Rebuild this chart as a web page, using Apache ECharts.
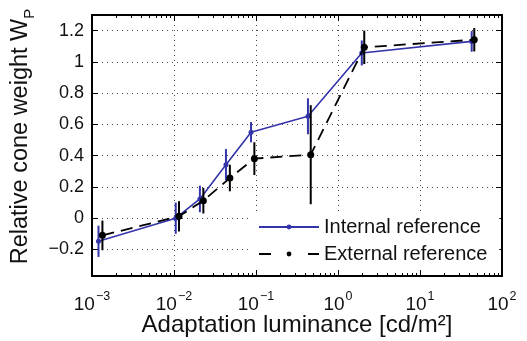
<!DOCTYPE html>
<html>
<head>
<meta charset="utf-8">
<script src="https://cdn.jsdelivr.net/npm/echarts@6/dist/echarts.min.js"></script>
<style>
  html, body { margin: 0; padding: 0; background: #fff; }
  #chart { width: 527px; height: 341px; }
</style>
</head>
<body>
<div id="chart"></div>
<script>
// Adaptation luminance (cd/m^2), mean relative cone weight and error half-widths
const luminanceInternal = [0.0012, 0.0105, 0.0207, 0.043, 0.087, 0.43, 1.95, 42.7];
const weightInternal    = [-0.148, 0.0, 0.123, 0.342, 0.55, 0.652, 1.057, 1.131];
const errorInternal     = [0.10, 0.10, 0.085, 0.10, 0.065, 0.115, 0.08, 0.066];

const luminanceExternal = [0.00134, 0.0115, 0.0228, 0.048, 0.0955, 0.465, 2.09, 45.9];
const weightExternal    = [-0.11, 0.012, 0.112, 0.257, 0.381, 0.406, 1.093, 1.142];
const errorExternal     = [0.095, 0.097, 0.082, 0.085, 0.105, 0.317, 0.107, 0.075];

const seriesNames = ['Internal reference', 'External reference'];
const yTickValues = [-0.2, 0, 0.2, 0.4, 0.6, 0.8, 1, 1.2];
const yTickLabels = ['\u22120.2', '0', '0.2', '0.4', '0.6', '0.8', '1', '1.2'];
const xDecadeExponents = [-3, -2, -1, 0, 1];
const xMinorSteps = [2, 3, 4, 5, 6, 7, 8, 9];

// minor tick positions (2..9 within each decade), expressed as exponents
const xMinorExponents = [];
xDecadeExponents.forEach(e => xMinorSteps.forEach(m => xMinorExponents.push(e + Math.log10(m))));

const blue = '#3434aa';
const black = '#000000';
const fontFamily = '"Liberation Sans", Arial, Helvetica, sans-serif';

function powerLabel(v) {
  const e = Math.round(Math.log10(v));
  const s = e < 0 ? '\u2212' + Math.abs(e) : String(e);
  return '{b|10}{s|' + s + '}';
}

function errorBars(name, xs, ys, es, color, z) {
  return {
    type: 'custom',
    name: name,
    z: z,
    silent: true,
    encode: { x: 0, y: [1, 2] },
    data: xs.map((x, i) => [x, ys[i] - es[i], ys[i] + es[i]]),
    renderItem(params, api) {
      const lo = api.coord([api.value(0), api.value(1)]);
      const hi = api.coord([api.value(0), api.value(2)]);
      return {
        type: 'line',
        shape: { x1: lo[0], y1: lo[1], x2: hi[0], y2: hi[1] },
        style: { stroke: color, lineWidth: 2 }
      };
    }
  };
}

const tickLine = { color: '#000', width: 1 };

function minorAxis(position) {
  return {
    type: 'value', min: -3, max: 2, position: position,
    axisLine: { show: false, onZero: false },
    axisTick: { show: true, inside: true, length: 3, customValues: xMinorExponents, lineStyle: tickLine },
    axisLabel: { show: false },
    splitLine: { show: false }
  };
}

const chart = echarts.init(document.getElementById('chart'), null, { renderer: 'canvas' });
chart.setOption({
  animation: false,
  backgroundColor: '#ffffff',
  textStyle: { fontFamily: fontFamily },
  grid: { left: 92, right: 25, top: 15, bottom: 65, containLabel: false, outerBoundsMode: 'none' },
  legend: {
    data: [
      { name: seriesNames[0] },
      { name: seriesNames[1], lineStyle: { type: [12, 37] } }
    ],
    orient: 'vertical',
    left: 250, top: 211,
    padding: [6, 12, 6, 8],
    itemGap: 7,
    itemWidth: 60, itemHeight: 6,
    backgroundColor: '#ffffff',
    textStyle: { fontSize: 20, color: '#111', lineHeight: 20, fontFamily: fontFamily }
  },
  xAxis: [
    {
      type: 'log', logBase: 10, min: 0.001, max: 100, position: 'bottom',
      name: 'Adaptation luminance [cd/m\u00B2]',
      nameLocation: 'middle',
      nameGap: 37,
      nameMoveOverlap: false,
      nameTextStyle: { fontSize: 24, color: '#111', fontFamily: fontFamily },
      axisLine: { show: true, onZero: false, lineStyle: { color: '#000', width: 2 } },
      axisTick: { show: true, inside: true, length: 6, lineStyle: tickLine },
      minorTick: { show: false },
      axisLabel: {
        show: true, margin: 14, formatter: powerLabel,
        rich: {
          b: { fontSize: 19, color: '#111', fontFamily: fontFamily, verticalAlign: 'bottom', lineHeight: 24 },
          s: { fontSize: 12.5, color: '#111', fontFamily: fontFamily, verticalAlign: 'top', lineHeight: 24, padding: [0, 0, 0, 1] }
        }
      },
      splitLine: { show: true, lineStyle: { color: '#444', width: 1, type: [1, 4] } }
    },
    {
      type: 'log', logBase: 10, min: 0.001, max: 100, position: 'top',
      axisLine: { show: true, onZero: false, lineStyle: { color: '#000', width: 2 } },
      axisTick: { show: true, inside: true, length: 6, lineStyle: tickLine },
      minorTick: { show: false },
      axisLabel: { show: false },
      splitLine: { show: false }
    },
    minorAxis('bottom'),
    minorAxis('top')
  ],
  yAxis: [
    {
      type: 'value', min: -0.37, max: 1.3, position: 'left',
      name: '{n|Relative cone weight W}{p|P}',
      nameLocation: 'middle',
      nameGap: 55,
      nameMoveOverlap: false,
      nameRotate: 90,
      nameTextStyle: {
        rich: {
          n: { fontSize: 23.5, color: '#111', fontFamily: fontFamily, verticalAlign: 'top', lineHeight: 28, padding: [0, 0, 0, 18] },
          p: { fontSize: 15, color: '#111', fontFamily: fontFamily, verticalAlign: 'bottom', lineHeight: 26 }
        }
      },
      axisLine: { show: true, onZero: false, lineStyle: { color: '#000', width: 2 } },
      axisTick: { show: true, inside: true, length: 6, customValues: yTickValues, lineStyle: tickLine },
      axisLabel: {
        show: true, margin: 8, customValues: yTickValues,
        fontSize: 18, color: '#111', fontFamily: fontFamily,
        formatter: v => yTickLabels[yTickValues.findIndex(t => Math.abs(t - v) < 1e-9)]
      },
      splitLine: { show: true, lineStyle: { color: '#444', width: 1, type: [1, 4] } }
    },
    {
      type: 'value', min: -0.37, max: 1.3, position: 'right',
      axisLine: { show: true, onZero: false, lineStyle: { color: '#000', width: 2 } },
      axisTick: { show: true, inside: true, length: 6, customValues: yTickValues, lineStyle: tickLine },
      axisLabel: { show: false },
      splitLine: { show: false }
    }
  ],
  series: [
    errorBars('Internal error', luminanceInternal, weightInternal, errorInternal, blue, 2),
    {
      type: 'line', name: seriesNames[0], z: 3,
      data: luminanceInternal.map((x, i) => [x, weightInternal[i]]),
      symbol: 'circle', symbolSize: 5, showSymbol: true,
      itemStyle: { color: blue },
      lineStyle: { color: blue, width: 1.6 }
    },
    errorBars('External error', luminanceExternal, weightExternal, errorExternal, black, 4),
    {
      type: 'line', name: seriesNames[1], z: 5,
      data: luminanceExternal.map((x, i) => [x, weightExternal[i]]),
      symbol: 'circle', symbolSize: 7, showSymbol: true,
      itemStyle: { color: black },
      lineStyle: { color: black, width: 1.8, type: [12, 7] }
    }
  ]
});
</script>
</body>
</html>
